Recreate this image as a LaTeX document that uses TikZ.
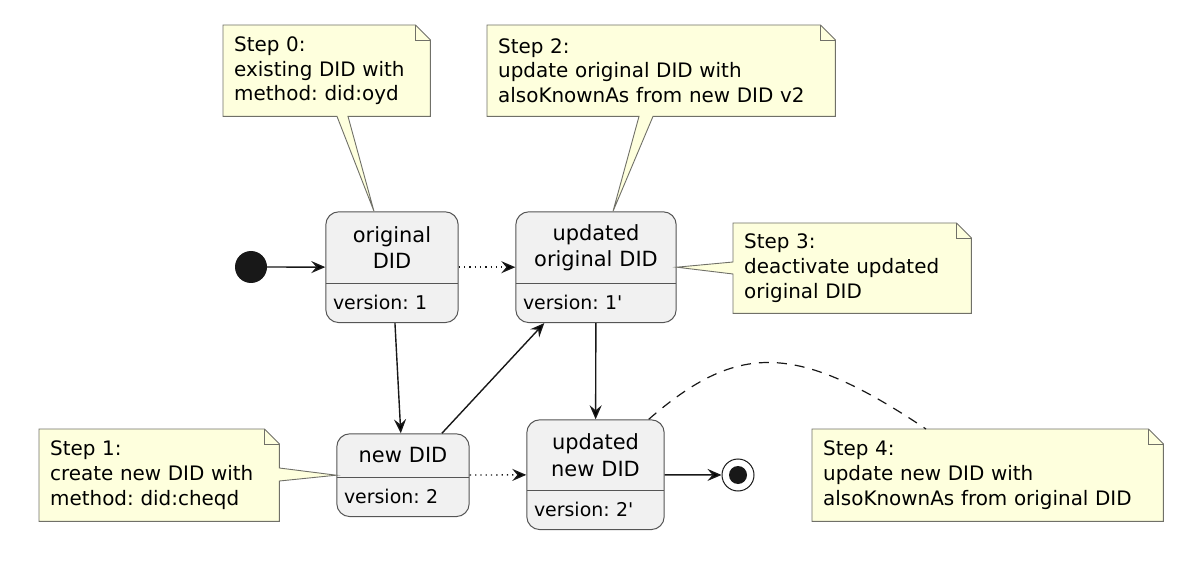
\documentclass[tikz,border=0pt]{standalone}
\usepackage{fontspec}
\setmainfont{DejaVu Sans}
\usepackage{tikz}
\usetikzlibrary{
        arrows.meta,
        backgrounds,
        fit,
        positioning
    }
\frenchspacing
\definecolor{notefill}{HTML}{FEFFDD}
\definecolor{noteline}{HTML}{707068}
\definecolor{stfill}{HTML}{F1F1F1}
\definecolor{stline}{HTML}{555555}
\definecolor{ink}{HTML}{181818}
\newcommand{\notefont}{\fontsize{20}{25}\selectfont}
\newcommand{\titlefont}{\fontsize{21}{26.5}\selectfont}
\newcommand{\verfont}{\fontsize{19}{22}\selectfont}
\tikzset{>={Stealth[length=14bp,width=12bp,inset=5bp]}}
\tikzset{
    note/.style={anchor=north west,text width=#1,inner xsep=11bp,inner ysep=0pt,
        minimum height=91bp,align=left,font=\notefont},
    notebox/.style={draw=noteline,fill=notefill,line width=0.9bp},
    sttitle/.style={text width=#1,inner xsep=7bp,inner ysep=0pt,align=center,font=\titlefont},
    stver/.style={text width=#1,inner xsep=7bp,inner ysep=0pt,minimum height=39bp,
        align=left,font=\verfont},
    stbox/.style={draw=stline,fill=stfill,rounded corners=13bp,inner sep=0pt,line width=1bp},
    split/.style={draw=stline,line width=1bp},
    flow/.style={->,draw=ink,line width=1.4bp},
    dotflow/.style={dash pattern=on 1.3bp off 4bp},
    notelink/.style={draw=ink,line width=1.2bp,dash pattern=on 10bp off 8bp}
}

\begin{document}
\begin{tikzpicture}[x=1bp,y=-1bp]
        \useasboundingbox (0,0) rectangle (1200,568);
        % states
        \node[sttitle=118bp,minimum height=71bp] (origt) at (392,247.5) {original\\DID};
        \node[stver=118bp,below=0pt of origt] (origv) {version: 1};
        \node[sttitle=146bp,minimum height=71bp] (updorigt) at (596,247.5) {updated\\original DID};
        \node[stver=146bp,below=0pt of updorigt] (updorigv) {version: 1\textquotesingle};
        \node[sttitle=118bp,minimum height=43bp] (newdt) at (403,455.5) {new DID};
        \node[stver=118bp,below=0pt of newdt] (newdv) {version: 2};
        \node[sttitle=123bp,minimum height=70bp] (updnewt) at (595.5,455) {updated\\new DID};
        \node[stver=123bp,below=0pt of updnewt] (updnewv) {version: 2\textquotesingle};
        \begin{scope}[on background layer]
            \node[stbox,fit=(origt)(origv)] (orig) {};
            \node[stbox,fit=(updorigt)(updorigv)] (updorig) {};
            \node[stbox,fit=(newdt)(newdv)] (newd) {};
            \node[stbox,fit=(updnewt)(updnewv)] (updnew) {};
        \end{scope}
        \draw[split] (origt.south west) -- (origt.south east);
        \draw[split] (updorigt.south west) -- (updorigt.south east);
        \draw[split] (newdt.south west) -- (newdt.south east);
        \draw[split] (updnewt.south west) -- (updnewt.south east);

        \node[circle,fill=ink,minimum size=32bp,inner sep=0pt] (start) at (251,267) {};
        \node[circle,draw=ink,fill=white,line width=1bp,minimum size=32bp,inner sep=0pt] (stop) at (738,475) {};
        \node[circle,fill=ink,minimum size=18bp,inner sep=0pt] (stopdot) at (stop) {};

        \path[flow]
            (start) edge (orig)
            (orig) edge (newd)
            (newd) edge (updorig)
            (updorig) edge (updnew)
            (updnew) edge (stop);
        \path[flow,dotflow]
            (orig) edge (updorig)
            (newd) edge (updnew);

        % notes
        \node[note=185bp] (n0) at (223,25) {Step 0:\\existing DID with\\method: did:oyd};
        \node[note=326bp] (n2) at (487,25) {Step 2:\\update original DID with\\alsoKnownAs from new DID v2};
        \node[note=216bp,minimum height=90bp] (n3) at (733,223) {Step 3:\\deactivate updated\\original DID};
        \node[note=218bp,minimum height=92bp] (n1) at (39,429) {Step 1:\\create new DID with\\method: did:cheqd};
        \node[note=329bp,minimum height=92bp] (n4) at (812,429) {Step 4:\\update new DID with\\alsoKnownAs from original DID};
        \begin{scope}[on background layer]
            \draw[notebox] (n0.north west) -- ([xshift=-15bp]n0.north east) -- ([yshift=-15bp]n0.north east)
                -- (n0.south east) -- ([xshift=125bp]n0.south west) -- ([xshift=-18bp]orig.north)
                -- ([xshift=114bp]n0.south west) -- (n0.south west) -- cycle;
            \draw[notebox] (n2.north west) -- ([xshift=-15bp]n2.north east) -- ([yshift=-15bp]n2.north east)
                -- (n2.south east) -- ([xshift=166bp]n2.south west) -- ([xshift=17bp]updorig.north)
                -- ([xshift=152bp]n2.south west) -- (n2.south west) -- cycle;
            \draw[notebox] (n3.north west) -- ([xshift=-15bp]n3.north east) -- ([yshift=-15bp]n3.north east)
                -- (n3.south east) -- (n3.south west) -- ([yshift=-51bp]n3.north west)
                -- (updorig.east) -- ([yshift=-39bp]n3.north west) -- cycle;
            \draw[notebox] (n1.north west) -- ([xshift=-15bp]n1.north east) -- ([yshift=-15bp]n1.north east)
                -- ([yshift=-39bp]n1.north east) -- (newd.west) -- ([yshift=-52bp]n1.north east)
                -- (n1.south east) -- (n1.south west) -- cycle;
            \draw[notebox] (n4.north west) -- ([xshift=-15bp]n4.north east) -- ([yshift=-15bp]n4.north east)
                -- (n4.south east) -- (n4.south west) -- cycle;
        \end{scope}
        \foreach \n in {n0,n1,n2,n3,n4}
            \draw[notebox,fill=none] ([xshift=-15bp]\n.north east) |- ([yshift=-15bp]\n.north east);

        % link of step 4
        \coordinate (c4a) at ([xshift=-16bp]updnew.north east);
        \coordinate (c4b) at ([xshift=114bp]n4.north west);
        \draw[notelink] (c4a) .. controls (738,342) and (796,342) .. (c4b);
\end{tikzpicture}
\end{document}
